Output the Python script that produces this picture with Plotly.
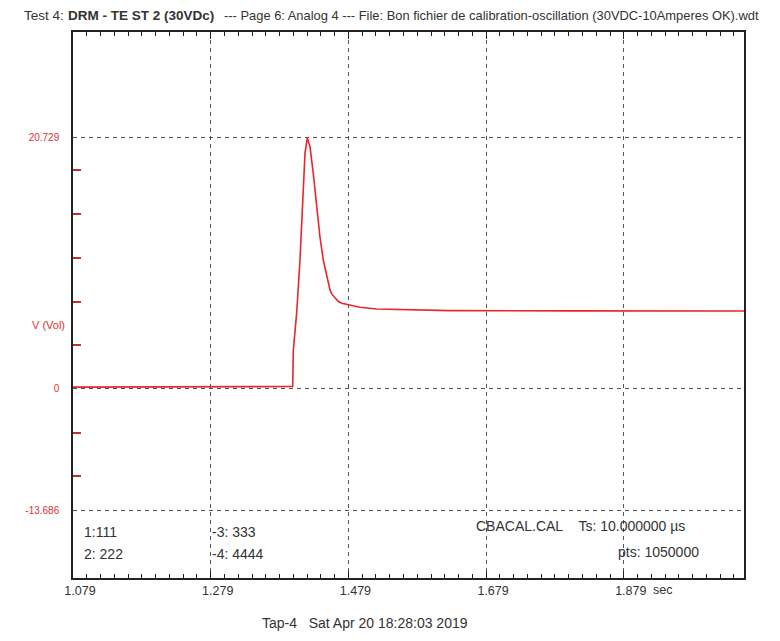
import plotly.graph_objects as go

# ---- data ----
time_s = [1.079, 1.3981, 1.3990, 1.4039, 1.4087, 1.4135, 1.4160, 1.4193, 1.4232,
          1.4280, 1.4330, 1.4377, 1.4425, 1.4475, 1.4523, 1.4547, 1.4595, 1.4644,
          1.4693, 1.4789, 1.4958, 1.5201, 1.6266, 1.8000, 2.0536]
volts = [0.15, 0.2, 3.2, 6.3, 10.65, 16.2, 19.5, 20.729, 20.0,
         17.8, 15.0, 12.55, 10.65, 9.25, 8.18, 7.85, 7.49, 7.22,
         7.08, 6.94, 6.75, 6.6, 6.47, 6.45, 6.44]

x_tick_vals = [1.079, 1.279, 1.479, 1.679, 1.879]
x_tick_text = ["1.079", "1.279", "1.479", "1.679", "1.879"]
x_minor_vals = [round(1.079 + 0.02 * k, 3) for k in range(1, 49)]
y_tick_vals = [20.729, 0, -10.07]
y_tick_text = ["20.729", "0", "-13.686"]
y_minor_vals = [-7.22, -3.61, 3.61, 7.22, 10.83, 14.44, 18.05]

RED = "#e0302e"
TXT = "#333333"
FONT = "Liberation Sans, Arial, sans-serif"

OFF = 8  # page body margin
W, H = 764, 625
L, T = 73 - OFF, 32 - OFF
R = W - (744 - OFF)
B = H - (578 - OFF)
pw, ph = W - L - R, H - T - B


def px(x):
    return (x - OFF - L) / pw


def py(y):
    return (H - B - (y - OFF)) / ph


X_RANGE = [1.079, 2.0536]

fig = go.Figure()
fig.add_trace(go.Scatter(x=time_s, y=volts, mode="lines",
                         line=dict(color="#e8262c", width=1.6),
                         hoverinfo="skip", showlegend=False))
fig.add_trace(go.Scatter(x=[X_RANGE[0]], y=[None], xaxis="x2", mode="lines",
                         hoverinfo="skip", showlegend=False))

fig.update_layout(
    width=W, height=H,
    margin=dict(l=L, r=R, t=T, b=B),
    paper_bgcolor="white", plot_bgcolor="white",
    font=dict(family=FONT, color=TXT, size=11),
    showlegend=False,
)

common_x = dict(
    range=X_RANGE,
    tickmode="array", tickvals=x_tick_vals,
    ticks="inside", ticklen=7, tickwidth=1, tickcolor="#222",
    zeroline=False,
    minor=dict(tickmode="array", tickvals=x_minor_vals, ticks="inside", ticklen=4,
               tickcolor="#222", tickwidth=1, showgrid=False),
)

fig.update_layout(
    xaxis=dict(
        **common_x,
        ticktext=x_tick_text,
        tickfont=dict(size=12.5, color=TXT, family=FONT),
        ticklabelshift=7,
        showgrid=True, gridcolor="#555", griddash="4px,4px", gridwidth=1,
        showline=True, linecolor="#222", linewidth=1.5, mirror=True,
    ),
    xaxis2=dict(
        **common_x,
        overlaying="x", side="top", anchor="y",
        showticklabels=False, showgrid=False, showline=False,
    ),
    yaxis=dict(
        range=[-15.61, 29.48],
        tickmode="array", tickvals=y_tick_vals, ticktext=y_tick_text,
        ticks="", tickfont=dict(size=10, color=RED, family=FONT),
        ticklabelstandoff=10,
        showgrid=True, gridcolor="#555", griddash="4px,4px", gridwidth=1,
        showline=True, linecolor="#222", linewidth=1.5, mirror=True,
        zeroline=False,
        minor=dict(tickmode="array", tickvals=y_minor_vals, ticks="inside",
                   ticklen=8, tickcolor="#c0302e", tickwidth=1.5, showgrid=False),
    ),
)

ann = []
# title pieces
for t, xx, size in [("Test 4:", 22, 13.5),
                    ("<b>DRM - TE ST 2 (30VDc)</b>", 66, 13.5),
                    ("--- Page 6: Analog 4 --- File: Bon fichier de calibration-oscillation "
                     "(30VDC-10Amperes OK).wdt", 222, 12.9)]:
    ann.append(dict(x=px(xx), y=py(15), xref="paper", yref="paper", xanchor="left",
                    yanchor="middle", showarrow=False, text=t,
                    font=dict(size=size, color=TXT, family=FONT)))
ann.append(dict(x=px(67), y=py(325), xref="paper", yref="paper", xanchor="right",
                yanchor="middle", showarrow=False, text="V (Vol)",
                font=dict(size=11, color=RED, family=FONT)))
for t, xx, yy in [("1:111", 82, 532), ("2: 222", 82, 554),
                  ("-3: 333", 210, 532), ("-4: 4444", 210, 554),
                  ("CBACAL.CAL&nbsp;&nbsp;&nbsp; Ts: 10.000000 µs", 474, 526),
                  ("pts: 1050000", 616, 552)]:
    ann.append(dict(x=px(xx), y=py(yy), xref="paper", yref="paper", xanchor="left",
                    yanchor="middle", showarrow=False, text=t,
                    font=dict(size=14, color=TXT, family=FONT)))
ann.append(dict(x=px(651), y=py(590), xref="paper", yref="paper", xanchor="left",
                yanchor="middle", showarrow=False, text="sec",
                font=dict(size=12.5, color=TXT, family=FONT)))
ann.append(dict(x=px(365), y=py(623), xref="paper", yref="paper", xanchor="center",
                yanchor="middle", showarrow=False,
                text="Tap-4&nbsp;&nbsp; Sat Apr 20 18:28:03 2019",
                font=dict(size=14, color=TXT, family=FONT)))
fig.update_layout(annotations=ann)

fig.write_html("out.html")
